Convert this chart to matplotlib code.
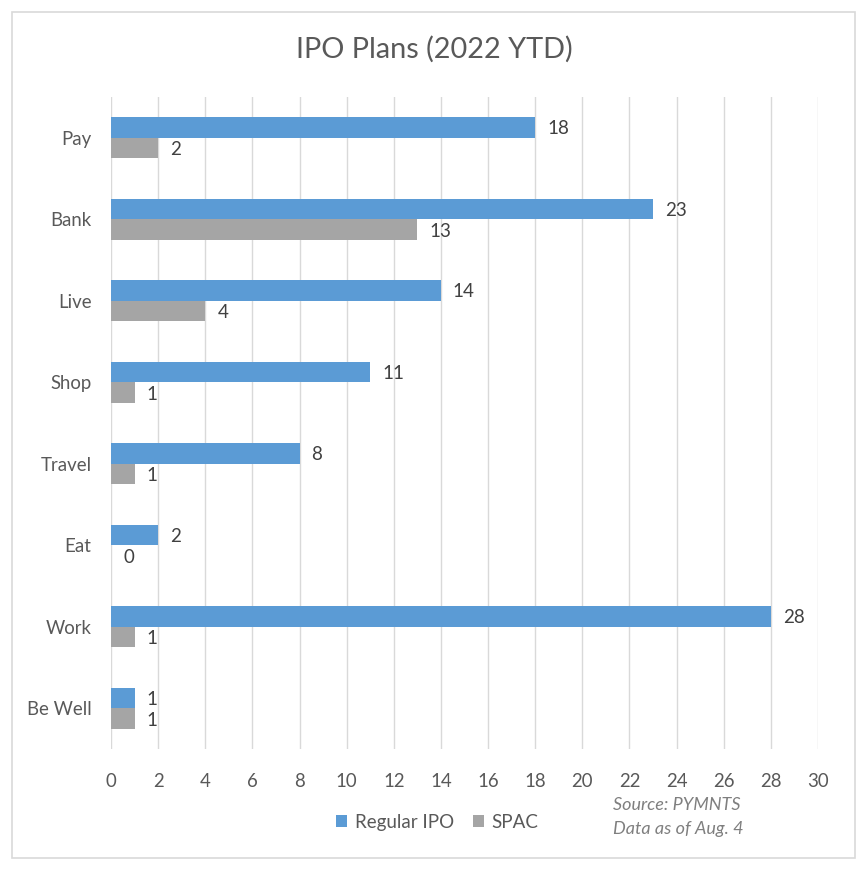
import matplotlib.pyplot as plt
import numpy as np
from matplotlib.patches import Rectangle

plt.rcParams['font.family'] = ['Lato', 'DejaVu Sans']

# data
categories = ["Pay", "Bank", "Live", "Shop", "Travel", "Eat", "Work", "Be Well"]
regularIpo = [18, 23, 14, 11, 8, 2, 28, 1]
spac = [2, 13, 4, 1, 1, 0, 1, 1]
xTicks = list(range(0, 31, 2))

blue = "#5b9bd5"
grey = "#a5a5a5"
textCol = "#595959"

fig = plt.figure(figsize=(8.68, 8.72), dpi=100)
ax = fig.add_axes([111/868, 1-749/872, 707/868, 652/872])

y = np.arange(len(categories))
h = 0.25
ax.barh(y - h/2, regularIpo, height=h, color=blue, zorder=3, label="Regular IPO")
ax.barh(y + h/2, spac, height=h, color=grey, zorder=3, label="SPAC")

# value labels
for yi, v in zip(y, regularIpo):
    ax.annotate(str(v), (v, yi - h/2), xytext=(12, -1), textcoords="offset pixels",
                va="center", ha="left", fontsize=13.5, color="#404040")
for yi, v in zip(y, spac):
    ax.annotate(str(v), (v, yi + h/2), xytext=(12, -2), textcoords="offset pixels",
                va="center", ha="left", fontsize=13.5, color="#404040")

ax.set_xlim(0, 30)
ax.set_ylim(len(categories) - 0.5, -0.5)
ax.set_xticks(xTicks)
ax.set_yticks(y)
ax.set_yticklabels(categories)
ax.tick_params(axis="both", length=0, labelsize=13.4, labelcolor=textCol)
ax.tick_params(axis="x", pad=17)
ax.tick_params(axis="y", pad=14)
ax.grid(axis="x", color="#d9d9d9", linewidth=1, zorder=0)
for s in ax.spines.values():
    s.set_visible(False)

fig.text(0.5, 1-49/872, "IPO Plans (2022 YTD)", ha="center", va="center",
         fontsize=20.8, color=textCol)

leg = fig.legend(loc="center", bbox_to_anchor=(437/868, 1-822/872), ncol=2,
                 frameon=False, fontsize=13.5, handlelength=0.6, handleheight=0.6,
                 handletextpad=0.4, columnspacing=1.0)
for t in leg.get_texts():
    t.set_color(textCol)

fig.text(613/868, 1-805/872, "Source: PYMNTS", ha="left", va="center",
         fontsize=13, style="italic", color="#7f7f7f")
fig.text(613/868, 1-829/872, "Data as of Aug. 4", ha="left", va="center",
         fontsize=13, style="italic", color="#7f7f7f")

# chart border
fig.patches.append(Rectangle((12/868, 1-858/872), 843/868, 846/872,
                             transform=fig.transFigure, fill=False,
                             edgecolor="#d9d9d9", linewidth=1.2))

plt.savefig("out.png", dpi=100)
